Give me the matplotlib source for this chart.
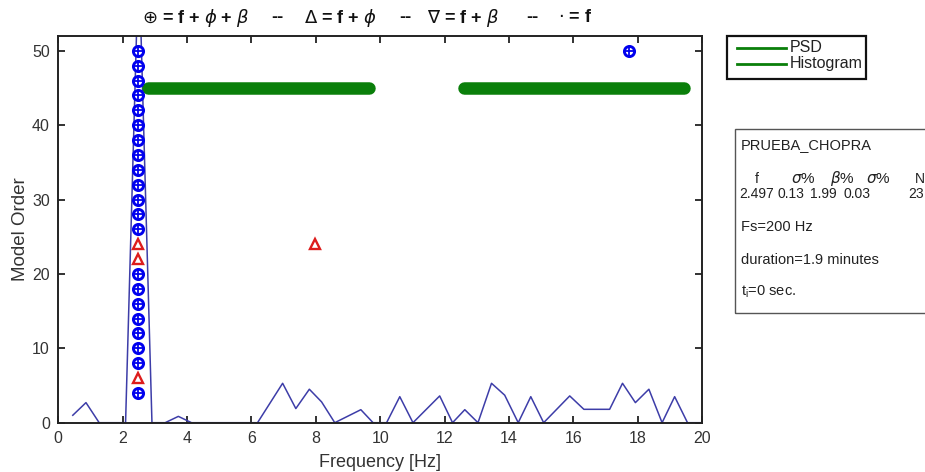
import matplotlib
matplotlib.use("Agg")
import matplotlib.pyplot as plt
from matplotlib.lines import Line2D
from matplotlib.patches import Rectangle

plt.rcParams['font.family'] = ['Liberation Sans', 'DejaVu Sans']
plt.rcParams['mathtext.fontset'] = 'dejavusans'

# ---------------- data ----------------
psd_freq = [0.45, 0.86, 1.27, 2.09, 2.50, 2.91, 3.32, 3.73, 4.14, 6.19, 6.97, 7.38,
            7.80, 8.18, 8.59, 9.40, 9.78, 10.20, 10.61, 11.02, 11.85, 12.25, 12.63,
            13.04, 13.46, 13.87, 14.29, 14.68, 15.08, 15.89, 16.33, 17.13, 17.53,
            17.93, 18.35, 18.76, 19.15, 19.55, 20.0]
psd_vals = [1.0, 2.7, 0, 0, 63, 0, 0, 0.85, 0, 0, 5.3, 1.9,
            4.5, 2.8, 0, 1.75, 0, 0, 3.5, 0, 3.6, 0, 1.75,
            0, 5.3, 3.7, 0, 3.5, 0, 3.6, 1.8, 1.8, 5.3,
            2.7, 4.5, 0, 3.5, 0, 0]

# histogram band segments (start, end) at order 45
hist_start = [2.80, 12.60]
hist_end = [9.65, 19.45]
hist_order = 45

# stable poles (f + phi + beta)
oplus_freq = [2.48, 2.48, 2.48, 2.48, 2.48, 2.48, 2.48, 2.48, 2.48, 2.48, 2.48,
              2.48, 2.48, 2.48, 2.48, 2.48, 2.48, 2.48, 2.48, 2.48, 2.48, 17.72]
oplus_order = [4, 8, 10, 12, 14, 16, 18, 20, 26, 28, 30, 32, 34, 36, 38, 40, 42,
               44, 46, 48, 50, 50]

# f + phi poles
tri_freq = [2.48, 2.48, 2.48, 7.98]
tri_order = [6, 22, 24, 24]

xticks = [0, 2, 4, 6, 8, 10, 12, 14, 16, 18, 20]
yticks = [0, 10, 20, 30, 40, 50]

# ---------------- figure ----------------
W, H = 925, 472
fig = plt.figure(figsize=(W / 100, H / 100), dpi=100)


def fx(px):
    return px / W


def fy(py):
    return 1 - py / H


ax = fig.add_axes([fx(58.3), fy(422.7), (702 - 58.3) / W, (422.7 - 36) / H])

ax.plot(psd_freq, psd_vals, color='#3d3da8', lw=1.1, zorder=2)

for s, e in zip(hist_start, hist_end):
    ax.plot([s, e], [hist_order, hist_order], color='#0a7f0a', lw=9,
            solid_capstyle='round', zorder=3)

ax.plot(oplus_freq, oplus_order, linestyle='none', marker='o', ms=7.3,
        mfc='white', mec='#0000ee', mew=2.1, zorder=4)
ax.plot(oplus_freq, oplus_order, linestyle='none', marker='+', ms=7.3,
        mec='#0000ee', mew=1.3, zorder=5)
ax.plot(tri_freq, tri_order, linestyle='none', marker='^', ms=7.3,
        mfc='white', mec='#dd1c1c', mew=1.7, zorder=4)

ax.set_xlim(0, 20)
ax.set_ylim(0, 52)
ax.set_xticks(xticks)
ax.set_yticks(yticks)
ax.tick_params(direction='in', top=True, right=True, length=5, width=1.3,
               labelsize=11.5, colors='#222222', labelcolor='#333333', pad=6)
for sp in ax.spines.values():
    sp.set_linewidth(1.4)
    sp.set_color('#222222')

ax.set_xlabel('Frequency [Hz]', fontsize=13, color='#333333', labelpad=6)
ax.set_ylabel('Model Order', fontsize=13.5, color='#333333', labelpad=2)

# ---------------- title (pieces) ----------------
tkw = dict(fontsize=13, fontweight='bold', va='center', color='#111111')
fig.text(fx(142), fy(18), r'$\oplus$ = f + $\phi$ + $\beta$', ha='left', **tkw)
fig.text(fx(277), fy(18), '--', ha='center', **tkw)
fig.text(fx(304), fy(18), r'$\Delta$ = f + $\phi$', ha='left', **tkw)
fig.text(fx(405), fy(18), '--', ha='center', **tkw)
fig.text(fx(427), fy(18), r'$\nabla$ = f + $\beta$', ha='left', **tkw)
fig.text(fx(532), fy(18), '--', ha='center', **tkw)
fig.text(fx(558), fy(18), r'$\cdot$ = f', ha='left', **tkw)

# ---------------- legend (drawn in figure pixels) ----------------
leg_labels = ['PSD', 'Histogram']
leg_rows = [47.5, 63.5]
fig.patches.append(Rectangle((fx(727), fy(79)), (866 - 727) / W, (79 - 36) / H,
                             transform=fig.transFigure, facecolor='white',
                             edgecolor='#111111', lw=1.6))
for lab, row in zip(leg_labels, leg_rows):
    fig.lines.append(Line2D([fx(737), fx(786)], [fy(row), fy(row)],
                            transform=fig.transFigure, color='#0a7f0a', lw=2))
    fig.text(fx(790), fy(row), lab, fontsize=11.5, va='center', color='#222222')

# ---------------- info box ----------------
fig.patches.append(Rectangle((fx(735), fy(313)), (940 - 735) / W, (313 - 129) / H,
                             transform=fig.transFigure, fill=False,
                             edgecolor='#555555', lw=1.0))
fs = 10.5
fst = 10
tc = '#222222'
mkw = dict(fontsize=fst + 1, color=tc, va='center', ha='center')
fig.text(fx(741), fy(145), 'PRUEBA_CHOPRA', fontsize=fs, color=tc, va='center')
fig.text(fx(757), fy(179), 'f', fontsize=fst, color=tc, va='center', ha='center')
fig.text(fx(803), fy(179), r'$\sigma$%', **mkw)
fig.text(fx(842), fy(179), r'$\beta$%', **mkw)
fig.text(fx(878), fy(179), r'$\sigma$%', **mkw)
fig.text(fx(920), fy(179), 'N', fontsize=fst, color=tc, va='center', ha='center')
fig.text(fx(739), fy(194), '2.497', fontsize=fst, color=tc, va='center')
fig.text(fx(778), fy(194), '0.13', fontsize=fst, color=tc, va='center')
fig.text(fx(810), fy(194), '1.99', fontsize=fst, color=tc, va='center')
fig.text(fx(843), fy(194), '0.03', fontsize=fst, color=tc, va='center')
fig.text(fx(908), fy(194), '23', fontsize=fst, color=tc, va='center')
fig.text(fx(741), fy(227), 'Fs=200 Hz', fontsize=fs, color=tc, va='center')
fig.text(fx(741), fy(260), 'duration=1.9 minutes', fontsize=fs, color=tc, va='center')
fig.text(fx(741), fy(292), r't$_\mathregular{i}$=0 sec.', fontsize=fs, color=tc, va='center')

fig.savefig('out.png', dpi=100)
